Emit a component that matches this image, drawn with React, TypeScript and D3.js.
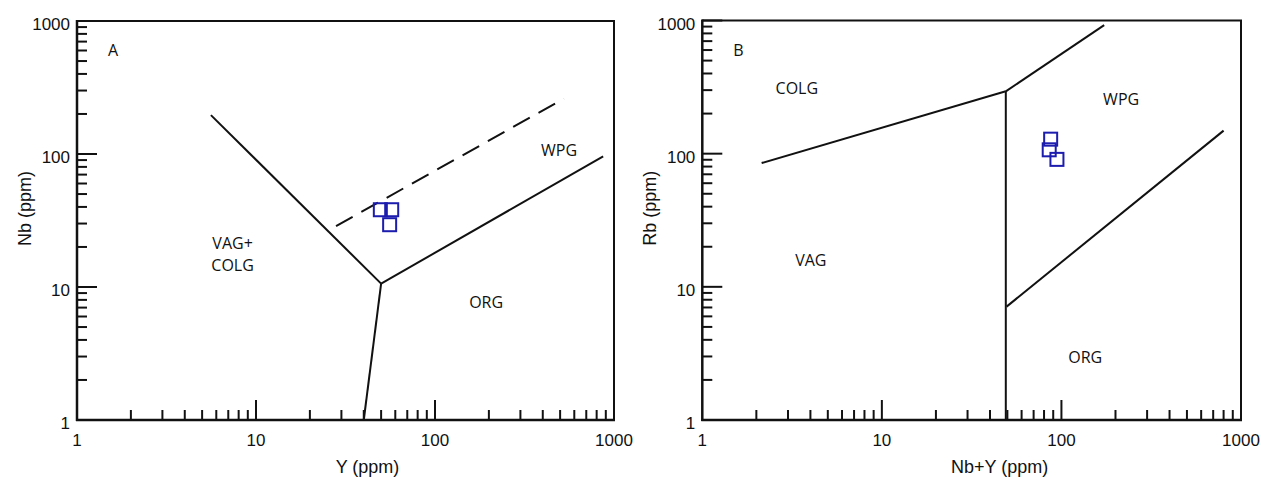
import React from 'react';
import * as d3 from 'd3';

// Panel A: Nb vs Y (ppm)
const yNbVagWpg = [[5.6, 196], [50, 10.6]];
const yNbWpgOrg = [[50, 10.6], [870, 96]];
const yNbVagOrg = [[50, 10.6], [40, 1]];
const yNbDashed = [[28, 28.7], [525, 261]];
const sampleY = [49.5, 57.3, 55.8];
const sampleNb = [38.1, 38.1, 29.4];
const labelsA = [
  { text: ['VAG+', 'COLG'], x: 7.4, y: 17.7 },
  { text: ['WPG'], x: 493, y: 107 },
  { text: ['ORG'], x: 193, y: 7.7 },
];

// Panel B: Rb vs Nb+Y (ppm)
const rbColgVag = [[2.14, 85], [49, 294]];
const rbColgWpg = [[49, 294], [173, 922]];
const rbVagWpg = [[49, 294], [49, 1]];
const rbWpgOrg = [[49.5, 7.1], [800, 149]];
const sampleNbY = [87.1, 85.5, 94.4];
const sampleRb = [128.5, 106.9, 90.6];
const labelsB = [
  { text: ['COLG'], x: 3.36, y: 313 },
  { text: ['WPG'], x: 215, y: 259 },
  { text: ['VAG'], x: 4.02, y: 16 },
  { text: ['ORG'], x: 135.6, y: 2.98 },
];

const tickValues = [1, 10, 100, 1000];
const domain: [number, number] = [1, 1000];

const tickFont = '"Liberation Sans", Arial, sans-serif';
const regionFont = '"Open Sans", "Noto Sans", sans-serif';

function minorTicks() {
  const out: number[] = [];
  for (let d = 1; d < 1000; d *= 10) {
    for (let k = 2; k <= 9; k++) out.push(d * k);
  }
  return out;
}

function Panel({ box, letter, xLabel, yLabel, xLabelShift, lines, dashed, xs, ys, labels }) {
  const x = d3.scaleLog().domain(domain).range([box.x0, box.x1]);
  const y = d3.scaleLog().domain(domain).range([box.y1, box.y0]);
  const line = d3.line<number[]>().x(d => x(d[0])).y(d => y(d[1]));
  const minors = minorTicks();
  const ink = '#111';

  return (
    <g>
      {/* frame */}
      <path d={`M${box.x0},${box.y0}H${box.x1}V${box.y1}`} fill="none" stroke={ink} strokeWidth={2} />
      <line x1={box.x0} x2={box.x0} y1={box.y0 - 1} y2={box.y1 + 1} stroke={ink} strokeWidth={2.5} />
      <line x1={box.x0 - 1} x2={box.x1 + 1} y1={box.y1} y2={box.y1} stroke={ink} strokeWidth={2.5} />

      {/* y ticks */}
      {minors.map(v => (
        <line key={'ym' + v} x1={box.x0} x2={box.x0 + 10} y1={y(v)} y2={y(v)} stroke={ink} strokeWidth={2} />
      ))}
      {tickValues.slice(1).map(v => (
        <line key={'yM' + v} x1={box.x0} x2={box.x0 + 20} y1={y(v)} y2={y(v)} stroke={ink} strokeWidth={2} />
      ))}
      {/* x ticks */}
      {minors.map(v => (
        <line key={'xm' + v} x1={x(v)} x2={x(v)} y1={box.y1} y2={box.y1 - 10} stroke={ink} strokeWidth={2} />
      ))}
      {tickValues.slice(1, 3).map(v => (
        <line key={'xM' + v} x1={x(v)} x2={x(v)} y1={box.y1} y2={box.y1 - 20} stroke={ink} strokeWidth={2} />
      ))}

      {/* tick labels */}
      {tickValues.map(v => (
        <text key={'yl' + v} x={box.x0 - 7} y={y(v) + 9} textAnchor="end" fontFamily={tickFont} fontSize={17} fill={ink}>
          {v}
        </text>
      ))}
      {tickValues.map(v => (
        <text key={'xl' + v} x={x(v)} y={box.y1 + 26} textAnchor="middle" fontFamily={tickFont} fontSize={17} fill={ink}>
          {v}
        </text>
      ))}

      {/* axis titles */}
      <text x={(box.x0 + box.x1) / 2 + xLabelShift} y={box.y1 + 53} textAnchor="middle" fontFamily={tickFont} fontSize={18} fill={ink}>
        {xLabel}
      </text>
      <text
        transform={`translate(${box.x0 - 52},${(box.y0 + box.y1) / 2 - 12}) rotate(-90)`}
        textAnchor="middle"
        dominantBaseline="central"
        fontFamily={tickFont}
        fontSize={18}
        fill={ink}
      >
        {yLabel}
      </text>

      {/* boundaries */}
      {lines.map((l, i) => (
        <path key={'l' + i} d={line(l) || ''} fill="none" stroke={ink} strokeWidth={2} />
      ))}
      {dashed.map((l, i) => (
        <path key={'d' + i} d={line(l) || ''} fill="none" stroke={ink} strokeWidth={2} strokeDasharray="19,10" />
      ))}

      {/* region labels */}
      <text x={box.x0 + 36} y={box.y0 + 29} textAnchor="middle" dominantBaseline="central" fontFamily={regionFont} fontSize={16} fill={ink}>
        {letter}
      </text>
      {labels.map((lb, i) => (
        <text key={'rl' + i} x={x(lb.x)} y={y(lb.y)} textAnchor="middle" fontFamily={regionFont} fontSize={16} fill={ink}>
          {lb.text.map((t, j) => (
            <tspan key={j} x={x(lb.x)} dy={j === 0 ? (lb.text.length === 1 ? 6 : -5) : 22}>
              {t}
            </tspan>
          ))}
        </text>
      ))}

      {/* samples */}
      {xs.map((v, i) => (
        <rect
          key={'s' + i}
          x={x(v) - 6.5}
          y={y(ys[i]) - 6.5}
          width={13}
          height={13}
          fill="none"
          stroke="#1c1cae"
          strokeWidth={2}
        />
      ))}
    </g>
  );
}

export default function App() {
  return (
    <svg width={1261} height={482} style={{ position: 'absolute', left: 0, top: 0, background: '#fff' }}>
      <Panel
        box={{ x0: 77, x1: 614, y0: 21, y1: 420 }}
        letter="A"
        xLabel="Y (ppm)"
        yLabel="Nb (ppm)"
        xLabelShift={22}
        lines={[yNbVagWpg, yNbWpgOrg, yNbVagOrg]}
        dashed={[yNbDashed]}
        xs={sampleY}
        ys={sampleNb}
        labels={labelsA}
      />
      <Panel
        box={{ x0: 702.3, x1: 1241, y0: 20.5, y1: 420 }}
        letter="B"
        xLabel="Nb+Y (ppm)"
        yLabel="Rb (ppm)"
        xLabelShift={28}
        lines={[rbColgVag, rbColgWpg, rbVagWpg, rbWpgOrg]}
        dashed={[]}
        xs={sampleNbY}
        ys={sampleRb}
        labels={labelsB}
      />
    </svg>
  );
}
